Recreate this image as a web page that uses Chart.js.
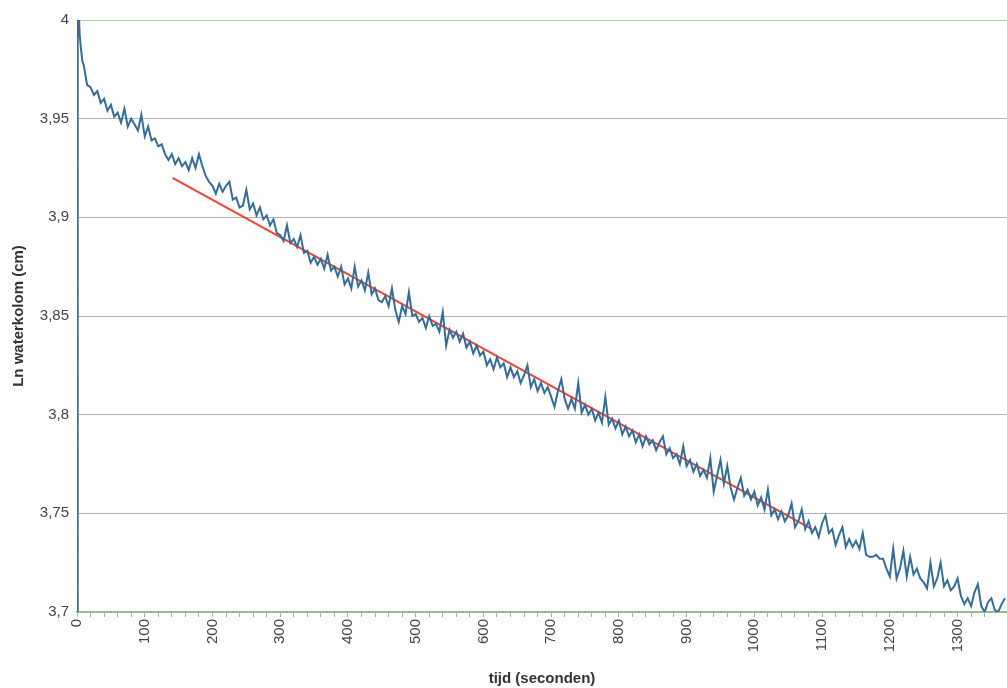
<!DOCTYPE html>
<html>
<head>
<meta charset="utf-8">
<title>Ln waterkolom</title>
<script src="https://cdn.jsdelivr.net/npm/chart.js@4.4.1/dist/chart.umd.min.js"></script>
<style>
  html, body { margin: 0; padding: 0; background: #fff; overflow: hidden; }
  #wrap { width: 1007px; height: 688px; }
</style>
</head>
<body>
<div id="wrap"><canvas id="myChart"></canvas></div>
<script>
// start of the measurement (fine time steps)
const startTimes = [0, 1, 2, 4, 6, 8];
const startValues = [3.60, 3.99, 4.01, 3.992, 3.985, 3.979];

// logged readings every 5 s from t = 10 s
const firstLogged = 10;
const sampleStep = 5;
const lnLevels = [
  // 10 - 95
  3.977, 3.967, 3.966, 3.962, 3.964, 3.958, 3.960, 3.954, 3.957, 3.951, 3.953, 3.948, 3.955, 3.946, 3.950, 3.947, 3.944, 3.952,
  // 100 - 195
  3.941, 3.946, 3.939, 3.940, 3.936, 3.937, 3.932, 3.929, 3.932, 3.927, 3.930, 3.926, 3.928, 3.924, 3.930, 3.925, 3.932, 3.926, 3.921, 3.918,
  // 200 - 295
  3.916, 3.912, 3.917, 3.913, 3.916, 3.918, 3.909, 3.910, 3.905, 3.906, 3.914, 3.904, 3.907, 3.901, 3.905, 3.899, 3.901, 3.896, 3.899, 3.892,
  // 300 - 395
  3.891, 3.888, 3.896, 3.887, 3.889, 3.885, 3.891, 3.882, 3.883, 3.877, 3.880, 3.876, 3.879, 3.874, 3.881, 3.873, 3.875, 3.870, 3.875, 3.866,
  // 400 - 495
  3.869, 3.864, 3.875, 3.865, 3.868, 3.863, 3.872, 3.861, 3.864, 3.858, 3.857, 3.860, 3.855, 3.864, 3.853, 3.847, 3.855, 3.851, 3.862, 3.850,
  // 500 - 595
  3.851, 3.847, 3.849, 3.844, 3.850, 3.845, 3.846, 3.842, 3.852, 3.835, 3.843, 3.839, 3.842, 3.837, 3.841, 3.834, 3.837, 3.831, 3.835, 3.830,
  // 600 - 695
  3.832, 3.825, 3.828, 3.823, 3.829, 3.824, 3.826, 3.819, 3.824, 3.819, 3.822, 3.816, 3.820, 3.825, 3.814, 3.818, 3.812, 3.816, 3.811, 3.814,
  // 700 - 795
  3.809, 3.804, 3.812, 3.818, 3.808, 3.803, 3.808, 3.803, 3.816, 3.801, 3.805, 3.800, 3.803, 3.797, 3.801, 3.796, 3.809, 3.795, 3.798, 3.793,
  // 800 - 895
  3.797, 3.790, 3.794, 3.789, 3.792, 3.786, 3.790, 3.784, 3.789, 3.785, 3.787, 3.782, 3.786, 3.789, 3.780, 3.783, 3.778, 3.780, 3.775, 3.784,
  // 900 - 995
  3.774, 3.777, 3.771, 3.775, 3.769, 3.772, 3.768, 3.778, 3.761, 3.769, 3.777, 3.765, 3.774, 3.763, 3.757, 3.763, 3.768, 3.759, 3.762, 3.757,
  // 1000 - 1095
  3.761, 3.754, 3.758, 3.752, 3.762, 3.749, 3.752, 3.747, 3.751, 3.746, 3.749, 3.755, 3.743, 3.746, 3.752, 3.742, 3.746, 3.740, 3.743, 3.738,
  // 1100 - 1195
  3.745, 3.749, 3.740, 3.742, 3.734, 3.739, 3.743, 3.733, 3.737, 3.733, 3.736, 3.732, 3.740, 3.729, 3.728, 3.728, 3.729, 3.727, 3.727, 3.722,
  // 1200 - 1295
  3.718, 3.732, 3.717, 3.722, 3.731, 3.718, 3.728, 3.719, 3.722, 3.717, 3.715, 3.712, 3.725, 3.713, 3.717, 3.725, 3.713, 3.716, 3.711, 3.713,
  // 1300 - 1370
  3.717, 3.708, 3.704, 3.707, 3.703, 3.710, 3.714, 3.703, 3.700, 3.705, 3.707, 3.701, 3.700, 3.704, 3.707
];

// linear fit drawn in red
const fitTimes = [141, 1085];
const fitValues = [3.920, 3.742];

const yMin = 3.7, yMax = 4.0, yStep = 0.05;
const xMin = 0, xMax = 1373, xMinorStep = 20, xLabelStep = 100;

const measured = startTimes.map((t, i) => ({ x: t, y: startValues[i] }))
  .concat(lnLevels.map((v, i) => ({ x: firstLogged + i * sampleStep, y: v })));
const fit = fitTimes.map((t, i) => ({ x: t, y: fitValues[i] }));

const tickFont = { family: 'Liberation Sans, Arial, sans-serif', size: 15 };
const titleFont = { family: 'Liberation Sans, Arial, sans-serif', size: 15, weight: 'bold' };

const config = {
  type: 'line',
  data: {
    datasets: [
      {
        data: measured,
        borderColor: '#336d98',
        borderWidth: 2,
        pointRadius: 0,
        tension: 0
      },
      {
        data: fit,
        borderColor: '#ee4438',
        borderWidth: 2,
        pointRadius: 0,
        tension: 0
      }
    ]
  },
  options: {
    responsive: true,
    maintainAspectRatio: false,
    animation: false,
    layout: { padding: { top: 20, right: 0, left: 0, bottom: 0 } },
    plugins: { legend: { display: false }, tooltip: { enabled: false } },
    scales: {
      x: {
        type: 'linear',
        min: xMin,
        max: xMax,
        afterFit: (scale) => {
          scale.height = 76;
          scale.paddingLeft = 0;
          scale.paddingRight = 0;
        },
        ticks: {
          stepSize: xMinorStep,
          autoSkip: false,
          minRotation: 90,
          maxRotation: 90,
          color: '#444',
          font: tickFont,
          padding: 2,
          callback: (v) => (v % xLabelStep === 0 ? String(v) : '')
        },
        grid: {
          drawOnChartArea: false,
          drawTicks: true,
          tickLength: 5,
          color: '#8fbf8f'
        },
        border: { color: '#86c086', width: 1.5 },
        title: {
          display: true,
          text: 'tijd (seconden)',
          color: '#333',
          font: titleFont,
          padding: { top: 0, bottom: 0 }
        }
      },
      y: {
        min: yMin,
        max: yMax,
        afterFit: (scale) => { scale.width = 77; },
        ticks: {
          stepSize: yStep,
          color: '#444',
          font: tickFont,
          padding: 8,
          callback: (v) => String(+v.toFixed(2)).replace('.', ',')
        },
        grid: {
          drawTicks: false,
          color: (ctx) => (ctx.tick && Math.abs(ctx.tick.value - yMax) < 1e-6 ? '#a8d4a8' : '#b3b3b3'),
          lineWidth: 1
        },
        border: { display: false },
        title: {
          display: true,
          text: 'Ln waterkolom (cm)',
          color: '#333',
          font: titleFont,
          padding: { top: 10, bottom: 4 }
        }
      }
    }
  }
};

const myChart = new Chart(document.getElementById('myChart'), config);
</script>
</body>
</html>
